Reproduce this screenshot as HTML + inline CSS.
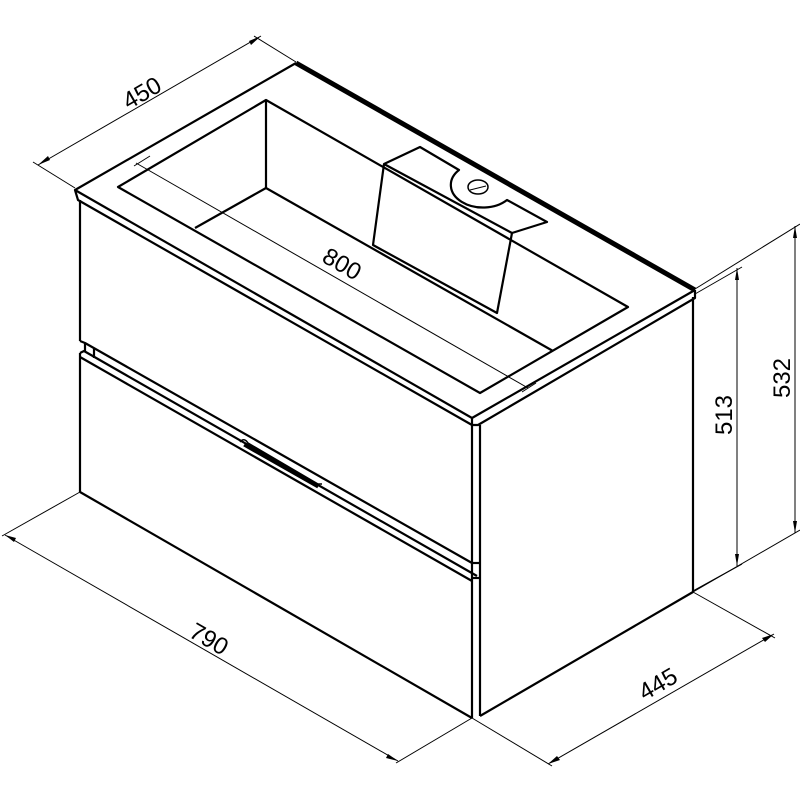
<!DOCTYPE html>
<html><head><style>body{margin:0;background:#fff}svg{display:block}</style></head>
<body>
<svg width="800" height="800" viewBox="0 0 800 800" xmlns="http://www.w3.org/2000/svg" font-family="Liberation Sans, sans-serif">
<g fill="none" stroke="#000" stroke-width="2.2" stroke-linejoin="round">
<!-- countertop -->
<polyline points="296,63 75,190 78,200 472,425 478,425 695,298 695,290"/>
<line x1="75" y1="190" x2="472" y2="418"/>
<line x1="472" y1="418" x2="695" y2="290"/>
<line x1="472" y1="418" x2="472" y2="425"/>
<line x1="296" y1="63" x2="695" y2="290" stroke-width="5"/>
<!-- basin -->
<polygon points="266,100 118,187 480,393 628,307"/>
<line x1="266" y1="100" x2="266" y2="188"/>
<line x1="266" y1="188" x2="553" y2="351"/>
<line x1="266" y1="188" x2="195" y2="228"/>
<!-- faucet deck -->
<path d="M373,245 L384,164 L420,147 L459,170 A20,14 0 0 0 507,200 L547,222 L512,233 L497,313 Z"/>
<line x1="384" y1="164" x2="512" y2="233"/>
<ellipse cx="478" cy="187" rx="10" ry="7" stroke-width="1.5"/>
<line x1="470" y1="190" x2="486" y2="186" stroke-width="1"/>
<!-- body -->
<line x1="80" y1="200" x2="80" y2="341"/>
<polyline points="80,341 85,343 472,563"/>
<line x1="85" y1="343" x2="85" y2="352"/>
<line x1="94" y1="348" x2="94" y2="358"/>
<polyline points="80,353 84,351 477,576"/>
<line x1="80" y1="357" x2="472" y2="581"/>
<line x1="80" y1="353" x2="80" y2="492"/>
<line x1="80" y1="492" x2="472" y2="718"/>
<line x1="472" y1="425" x2="472" y2="718"/>
<line x1="480" y1="425" x2="480" y2="716"/>
<line x1="472" y1="563" x2="480" y2="563"/>
<line x1="472" y1="578" x2="480" y2="578"/>
<line x1="480" y1="716" x2="693" y2="592"/>
<line x1="693" y1="297" x2="693" y2="592"/>
<!-- handle -->
<path d="M240,442 Q244,437 248,443 L318,484 L322,484" stroke-width="1.5"/>
<line x1="244" y1="445" x2="318" y2="487" stroke-width="3"/>
</g>
<g fill="none" stroke="#000" stroke-width="1">
<!-- 450 -->
<line x1="75" y1="188" x2="33" y2="162"/>
<line x1="296" y1="62" x2="254" y2="36"/>
<line x1="38" y1="165" x2="261" y2="36"/>
<!-- 800 -->
<line x1="136" y1="163" x2="528" y2="388"/>
<line x1="134" y1="166" x2="150" y2="156"/>
<line x1="522" y1="392" x2="536" y2="383"/>
<!-- 790 -->
<line x1="80" y1="492" x2="2" y2="536"/>
<line x1="472" y1="718" x2="396" y2="763"/>
<line x1="5" y1="535" x2="398" y2="761"/>
<!-- 445 -->
<line x1="472" y1="718" x2="552" y2="766"/>
<line x1="693" y1="592" x2="775" y2="638"/>
<line x1="548" y1="764" x2="774" y2="634"/>
<!-- 513 -->
<line x1="695" y1="294" x2="742" y2="267"/>
<line x1="693" y1="591" x2="742" y2="564"/>
<line x1="737" y1="268" x2="737" y2="566"/>
<!-- 532 -->
<line x1="695" y1="289" x2="800" y2="224"/>
<line x1="693" y1="592" x2="800" y2="530"/>
<line x1="795" y1="226" x2="795" y2="533"/>
</g>
<g fill="#000">
<polygon points="38,165 48,156 50,160"/>
<polygon points="261,36 249,41 251,45"/>
<polygon points="5,535 16,538 14,542"/>
<polygon points="398,761 386,758 388,754"/>
<polygon points="548,764 557,756 560,760"/>
<polygon points="774,634 765,642 762,638"/>
<polygon points="737,268 735,280 739,280"/>
<polygon points="737,566 735,554 739,554"/>
<polygon points="795,226 793,238 797,238"/>
<polygon points="795,533 793,521 797,521"/>
</g>
<g font-size="24" fill="#000" text-anchor="middle">
<text transform="translate(146,100) rotate(-30)">450</text>
<text transform="translate(338,271) rotate(30)">800</text>
<text transform="translate(205,646) rotate(30)">790</text>
<text transform="translate(662,691) rotate(-30)">445</text>
<text transform="translate(732,415) rotate(-90)">513</text>
<text transform="translate(790,378) rotate(-90)">532</text>
</g>
</svg>
</body></html>
